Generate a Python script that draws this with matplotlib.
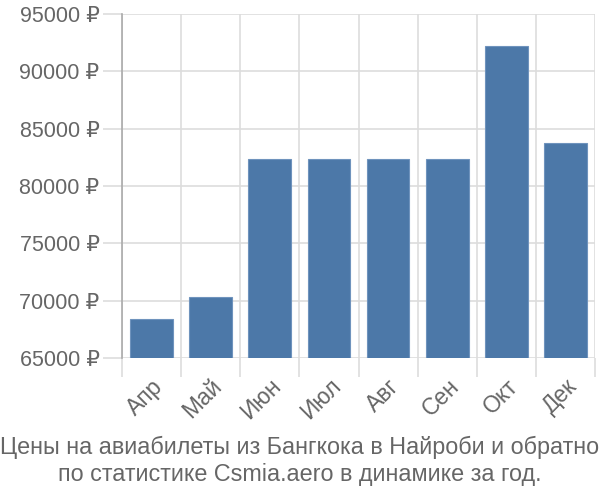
import numpy as np
import matplotlib.pyplot as plt

plt.rcParams['font.family'] = ['Liberation Sans', 'DejaVu Sans']

months = ["Апр", "Май", "Июн", "Июл", "Авг", "Сен", "Окт", "Дек"]
prices = [68400, 70300, 82350, 82350, 82350, 82350, 92200, 83750]
yticks = [65000, 70000, 75000, 80000, 85000, 90000, 95000]

grey = "#666666"
grid_c = "#dddddd"

fig = plt.figure(figsize=(6, 5), dpi=100)
ax = fig.add_axes([0.203, 0.284, 0.789, 0.688])

x = np.arange(len(months))
ax.bar(x, prices, width=0.72, color="#4c78a8", edgecolor="#6f93bd",
       linewidth=0.8, zorder=3)

ax.set_xlim(-0.5, len(months) - 0.5)
ax.set_ylim(65000, 95000)

ax.set_yticks(yticks)
ax.set_yticklabels([f"{v} ₽" for v in yticks], fontsize=15.5, color=grey)
ax.set_xticks(x)
ax.set_xticklabels(months, fontsize=16.5, color=grey, rotation=45,
                   ha="right", rotation_mode="anchor")
ax.set_xticks(np.arange(-0.5, len(months)), minor=True)

ax.tick_params(axis="x", which="major", length=0, pad=12)
ax.tick_params(axis="x", which="minor", length=14, color=grid_c, width=1.2)
ax.tick_params(axis="y", length=14, color=grid_c, width=1.2, pad=2)

ax.grid(True, axis="y", color=grid_c, lw=1.2, zorder=0)
ax.grid(True, axis="x", which="minor", color=grid_c, lw=1.2, zorder=0)

for s in ["top", "right", "bottom"]:
    ax.spines[s].set_visible(False)
ax.spines["left"].set_color("#aaaaaa")
ax.spines["left"].set_linewidth(1.2)
ax.spines["left"].set_bounds(65000, 95000)

fig.text(0.5, 0.078, "Цены на авиабилеты из Бангкока в Найроби и обратно\n"
         "по статистике Csmia.aero в динамике за год.",
         ha="center", va="center", fontsize=16.8, color=grey, linespacing=1.2)

fig.savefig("out.png", dpi=100)
